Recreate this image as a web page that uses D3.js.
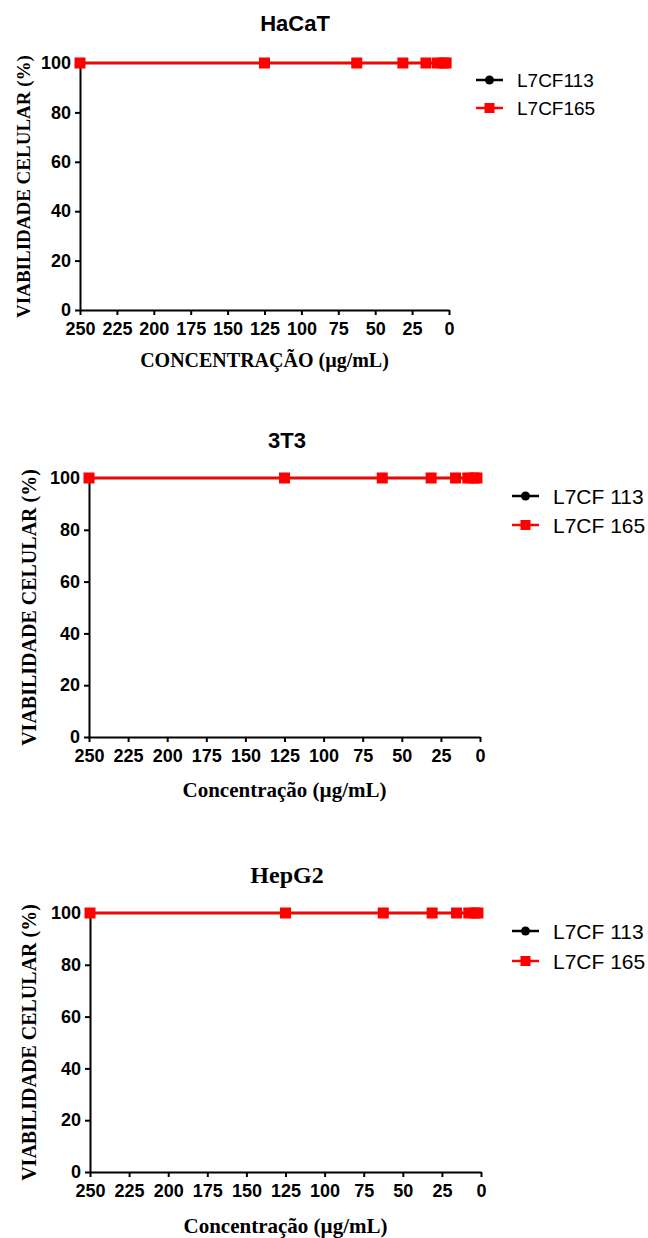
<!DOCTYPE html>
<html>
<head>
<meta charset="utf-8">
<script src="https://cdn.jsdelivr.net/npm/d3@7"></script>
<style>
    body { margin: 0; background: #fff; }
    svg { display: block; }
    .axis .tick text { font-family: "Liberation Sans", Arial, sans-serif; font-weight: bold; font-size: 18px; fill: #000; }
    .axis .domain, .axis .tick line { stroke: #000; stroke-width: 2; }
</style>
</head>
<body>
<svg id="chart" width="648" height="1238"></svg>
<script>
'use strict';

// data
const concentrations = [250, 125, 62.5, 31.25, 15.625, 7.8125, 3.90625, 1.953125];
const xTicks = [250, 225, 200, 175, 150, 125, 100, 75, 50, 25, 0];
const yTicks = [0, 20, 40, 60, 80, 100];

const hacatL7CF113 = [100, 100, 100, 100, 100, 100, 100, 100];
const hacatL7CF165 = [100, 100, 100, 100, 100, 100, 100, 100];
const t3L7CF113 = [100, 100, 100, 100, 100, 100, 100, 100];
const t3L7CF165 = [100, 100, 100, 100, 100, 100, 100, 100];
const hepg2L7CF113 = [100, 100, 100, 100, 100, 100, 100, 100];
const hepg2L7CF165 = [100, 100, 100, 100, 100, 100, 100, 100];

const panelTitles = ['HaCaT', '3T3', 'HepG2'];
const seriesNames = [['L7CF113', 'L7CF165'], ['L7CF 113', 'L7CF 165'], ['L7CF 113', 'L7CF 165']];
const xTitles = ['CONCENTRAÇÃO (µg/mL)', 'Concentração (µg/mL)', 'Concentração (µg/mL)'];
const yTitle = 'VIABILIDADE CELULAR (%)';
const seriesColors = ['#000000', '#ff0000'];

const panelSeries = [
    [hacatL7CF113, hacatL7CF165],
    [t3L7CF113, t3L7CF165],
    [hepg2L7CF113, hepg2L7CF165]
];

const SANS = '"Liberation Sans", Arial, sans-serif';
const SERIF = '"Liberation Serif", "Times New Roman", serif';

// where each panel sits on the page
const layout = [
    { left: 80, right: 449, top: 63, bottom: 310, titleX: 295, titleY: 31, titleFont: SANS, titleSize: 22,
      yTitleX: 30, yTitleSize: 19, xTitleY: 367, xTitleSize: 20, legendX: 476, legendY: [80, 108], legendSize: 19 },
    { left: 89, right: 480, top: 478, bottom: 737, titleX: 287, titleY: 448, titleFont: SANS, titleSize: 22,
      yTitleX: 36, yTitleSize: 20, xTitleY: 797, xTitleSize: 21, legendX: 512, legendY: [496, 525], legendSize: 21 },
    { left: 90, right: 481, top: 913, bottom: 1172, titleX: 287, titleY: 883, titleFont: SERIF, titleSize: 24,
      yTitleX: 36, yTitleSize: 20, xTitleY: 1233, xTitleSize: 21, legendX: 512, legendY: [931, 961], legendSize: 21 }
];

const svg = d3.select('#chart');

function drawMarker(g, i, x, y, size){
    if (i === 0) {
        g.append('circle')
            .attr('cx', x).attr('cy', y).attr('r', size / 2)
            .attr('fill', seriesColors[i]);
    } else {
        g.append('rect')
            .attr('x', x - size / 2).attr('y', y - size / 2)
            .attr('width', size).attr('height', size)
            .attr('fill', seriesColors[i]);
    }
}

layout.forEach((p, k) => {
    const g = svg.append('g');

    const x = d3.scaleLinear().domain([250, 0]).range([p.left, p.right]);
    const y = d3.scaleLinear().domain([0, 100]).range([p.bottom, p.top]);

    g.append('g')
        .attr('class', 'axis')
        .attr('transform', `translate(0,${p.bottom})`)
        .call(d3.axisBottom(x).tickValues(xTicks).tickSize(5).tickSizeOuter(0).tickPadding(7));

    g.append('g')
        .attr('class', 'axis')
        .attr('transform', `translate(${p.left},0)`)
        .call(d3.axisLeft(y).tickValues(yTicks).tickSize(5).tickSizeOuter(0).tickPadding(4));

    // title
    g.append('text')
        .attr('x', p.titleX).attr('y', p.titleY)
        .attr('text-anchor', 'middle')
        .style('font-family', p.titleFont).style('font-weight', 'bold').style('font-size', p.titleSize + 'px')
        .text(panelTitles[k]);

    // axis titles
    g.append('text')
        .attr('transform', `translate(${p.yTitleX},${(p.top + p.bottom) / 2}) rotate(-90)`)
        .attr('text-anchor', 'middle')
        .style('font-family', SERIF).style('font-weight', 'bold').style('font-size', p.yTitleSize + 'px')
        .text(yTitle);

    g.append('text')
        .attr('x', (p.left + p.right) / 2).attr('y', p.xTitleY)
        .attr('text-anchor', 'middle')
        .style('font-family', SERIF).style('font-weight', 'bold').style('font-size', p.xTitleSize + 'px')
        .text(xTitles[k]);

    // series: black first, red drawn over it
    const line = d3.line().x(d => x(d[0])).y(d => y(d[1]));
    panelSeries[k].forEach((values, i) => {
        const pts = concentrations.map((c, j) => [c, values[j]]);
        g.append('path')
            .attr('d', line(pts))
            .attr('fill', 'none')
            .attr('stroke', seriesColors[i])
            .attr('stroke-width', 2.5);
        pts.forEach(d => drawMarker(g, i, x(d[0]), y(d[1]), i === 0 ? 10 : 11));
    });

    // legend
    seriesNames[k].forEach((name, i) => {
        const ly = p.legendY[i];
        g.append('line')
            .attr('x1', p.legendX).attr('x2', p.legendX + 27)
            .attr('y1', ly).attr('y2', ly)
            .attr('stroke', seriesColors[i]).attr('stroke-width', 2.5);
        drawMarker(g, i, p.legendX + 13.5, ly, i === 0 ? 9 : 10);
        g.append('text')
            .attr('x', p.legendX + 41).attr('y', ly)
            .attr('dy', '0.36em')
            .style('font-family', SANS).style('font-size', p.legendSize + 'px')
            .text(name);
    });
});
</script>
</body>
</html>
